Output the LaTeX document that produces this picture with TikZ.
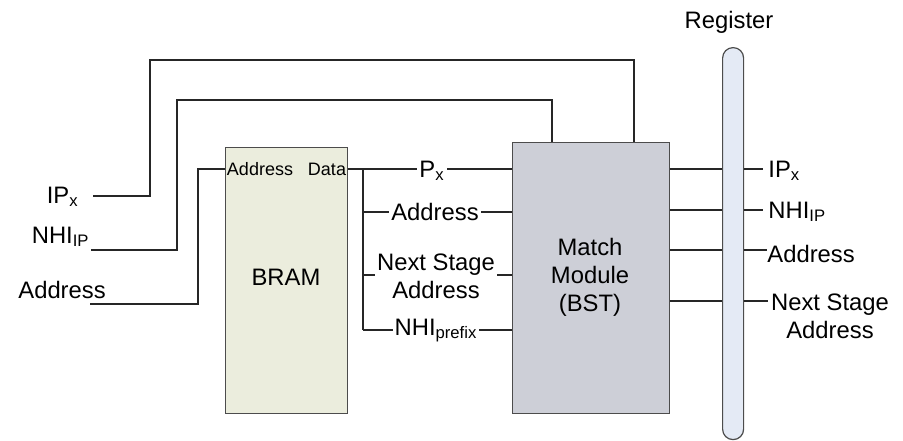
\documentclass[tikz,border=0pt]{standalone}
\usepackage{fontspec}
\setmainfont{Liberation Sans}
\begin{document}
\begin{tikzpicture}[x=0.5pt,y=-0.5pt,
  font=\fontsize{11.9}{14}\selectfont,
  wire/.style={draw=black!85, line width=0.6pt},
  block/.style={draw=black!70, line width=0.6pt, anchor=north west, inner sep=0pt},
  lbl/.style={inner sep=0pt},
  cut/.style={fill=white, inner xsep=1pt, inner ysep=0pt, align=center}]
\useasboundingbox (0,0) rectangle (903,440);
\definecolor{bramfill}{HTML}{EBEDDD}
\definecolor{matchfill}{HTML}{CDCFD7}
\definecolor{regfill}{HTML}{E4EAF5}

% blocks
\node[block, fill=bramfill, minimum width=61pt, minimum height=133pt] (bram) at (225,147) {};
\node[block, fill=matchfill, minimum width=78.5pt, minimum height=135.5pt] (match) at (512,142) {};
\node[block, fill=regfill, minimum width=10.5pt, minimum height=196pt, rounded corners=5.2pt] (reg) at (722,47) {};

\node[lbl] (bramtxt) at (286,277) {BRAM};
\node[lbl, font=\fontsize{9}{11}\selectfont, anchor=base] (baddr) at (260,175) {Address};
\node[lbl, font=\fontsize{9}{11}\selectfont, anchor=base] (bdata) at (327,175) {Data};
\node[lbl, align=center] (matchtxt) at (590,277) {Match\\Module\\(BST)};
\node[lbl, anchor=base] (regtxt) at (729,28) {Register};

% inputs on the left
\node[lbl, anchor=base east] (ipx) at (79,203) {IP\textsubscript{x}};
\node[lbl, anchor=base east] (nhiip) at (90,243) {NHI\textsubscript{IP}};
\node[lbl, anchor=base west] (addrin) at (18,298) {Address};
\coordinate (ipxin) at (93,196);
\coordinate (nhiin) at (91,250);
\coordinate (addin) at (90,304);

\draw[wire] (ipxin) -| (150,60) -| (634,0 |- match.north);
\draw[wire] (nhiin) -| (177,100) -| (552,0 |- match.north);
\draw[wire] (addin) -| (198,169) -- (bram.west |- 0,169);

% data bus between BRAM and the match module
\coordinate (tap) at (363,169);
\draw[wire] (bram.east |- 0,169) -- (match.west |- 0,169);
\draw[wire] (tap) -- (363,330);
\draw[wire] (363,212) -- (match.west |- 0,212);
\draw[wire] (363,275) -- (match.west |- 0,275);
\draw[wire] (363,330) -- (match.west |- 0,330);
\node[cut, anchor=base] (px) at (432,177) {P\textsubscript{x}};
\node[cut, anchor=base] (maddr) at (435,220) {Address};
\node[cut] (mnext) at (436,276) {Next Stage\\Address};
\node[cut, anchor=base] (mnhi) at (436,335) {NHI\textsubscript{prefix}};

% outputs into the register
\foreach \yy in {169,210,250,301}
  \draw[wire] (match.east |- 0,\yy) -- (reg.west |- 0,\yy);
\coordinate (o1) at (763,169);
\coordinate (o2) at (763,210);
\coordinate (o3) at (767,250);
\coordinate (o4) at (768,301);
\draw[wire] (reg.east |- o1) -- (o1);
\draw[wire] (reg.east |- o2) -- (o2);
\draw[wire] (reg.east |- o3) -- (o3);
\draw[wire] (reg.east |- o4) -- (o4);
\node[lbl, anchor=base west] (ripx) at (768,177) {IP\textsubscript{x}};
\node[lbl, anchor=base west] (rnhi) at (768,218) {NHI\textsubscript{IP}};
\node[lbl, anchor=base west] (raddr) at (767,262) {Address};
\node[lbl, align=center] (rnext) at (830,316) {Next Stage\\Address};
\end{tikzpicture}
\end{document}
